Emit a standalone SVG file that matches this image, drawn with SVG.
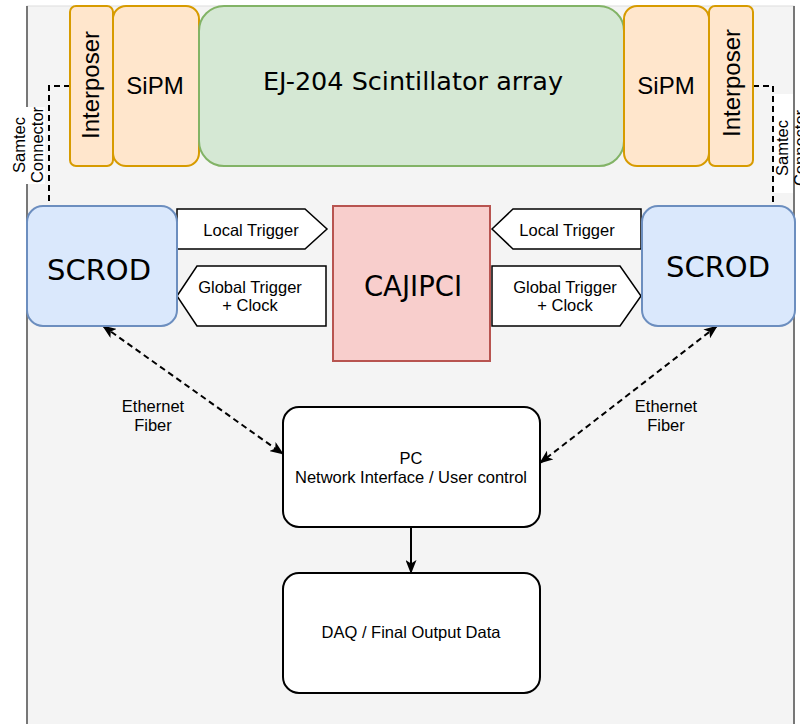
<svg xmlns="http://www.w3.org/2000/svg" width="800" height="724" viewBox="0 0 800 724">
<style>
.t{font-family:"Liberation Sans",Arial,sans-serif;fill:#000}
.d{font-family:"DejaVu Sans",sans-serif;fill:#000}
.org{fill:#ffe6cc;stroke:#d79b00;stroke-width:2}
.grn{fill:#d5e8d4;stroke:#82b366;stroke-width:2}
.blu{fill:#dae8fc;stroke:#6c8ebf;stroke-width:2}
.red{fill:#f8cecc;stroke:#b85450;stroke-width:2}
.wht{fill:#ffffff;stroke:#000;stroke-width:2}
.sig{fill:#ffffff;stroke:#000;stroke-width:1.5}
.dash{fill:none;stroke:#000;stroke-width:2;stroke-dasharray:6 4}
.solid{fill:none;stroke:#000;stroke-width:2}
</style>
<defs>
<marker id="arr" viewBox="0 0 14 11" refX="13" refY="5.5" markerWidth="14" markerHeight="11" markerUnits="userSpaceOnUse" orient="auto-start-reverse">
<path d="M0,0 L14,5.5 L0,11 L3.5,5.5 Z" fill="#000"/>
</marker>
</defs>
<rect width="800" height="724" fill="#ffffff"/>
<g id="background">
<rect x="27" y="6" width="767" height="740" fill="#f4f4f4" stroke="#dddddd" stroke-width="1"/>
<line x1="27" y1="6" x2="27" y2="724" stroke="#777" stroke-width="2"/>
<line x1="794" y1="6" x2="794" y2="724" stroke="#777" stroke-width="2"/>
</g>
<g id="connectors">
<polyline class="dash" points="70,86 49,86 49,206"/>
<polyline class="dash" points="753,86 773,86 773,206"/>
<line class="dash" x1="103" y1="326" x2="283" y2="454" marker-start="url(#arr)" marker-end="url(#arr)"/>
<line class="dash" x1="717" y1="326" x2="540" y2="463" marker-start="url(#arr)" marker-end="url(#arr)"/>
<line class="solid" x1="411" y1="527" x2="411" y2="573" marker-end="url(#arr)"/>
<g id="samtec-left">
<rect x="9" y="107" width="36" height="77" fill="#ffffff"/>
<text class="t" font-size="16.5" text-anchor="middle" transform="translate(28,145) rotate(-90)"><tspan x="0" y="-3">Samtec</tspan><tspan x="0" y="15">Connector</tspan></text>
</g>
<g id="samtec-right">
<rect x="774" y="94" width="19" height="99" fill="#ffffff"/>
<rect x="795" y="94" width="5" height="99" fill="#ffffff"/>
<text class="t" font-size="16.5" text-anchor="middle" transform="translate(797,148) rotate(-90)"><tspan x="0" y="-9">Samtec</tspan><tspan x="0" y="9">Connector</tspan></text>
</g>
<g id="eth-left"><text class="t" font-size="16.5" text-anchor="middle"><tspan x="153" y="412">Ethernet</tspan><tspan x="153" y="431">Fiber</tspan></text></g>
<g id="eth-right"><text class="t" font-size="16.5" text-anchor="middle"><tspan x="666" y="412">Ethernet</tspan><tspan x="666" y="431">Fiber</tspan></text></g>
</g>
<g id="interposer-left">
<rect class="org" x="70" y="6" width="43" height="160" rx="6"/>
<text class="t" font-size="24" text-anchor="middle" transform="translate(99,85) rotate(-90)">Interposer</text>
</g>
<g id="sipm-left">
<rect class="org" x="113" y="6" width="86" height="160" rx="13"/>
<text class="t" font-size="24" text-anchor="middle" x="155" y="94">SiPM</text>
</g>
<g id="scintillator">
<rect class="grn" x="199" y="6" width="425" height="160" rx="25"/>
<text class="d" font-size="25.5" text-anchor="middle" x="413" y="90">EJ-204 Scintillator array</text>
</g>
<g id="sipm-right">
<rect class="org" x="624" y="6" width="85" height="160" rx="13"/>
<text class="t" font-size="24" text-anchor="middle" x="666" y="94">SiPM</text>
</g>
<g id="interposer-right">
<rect class="org" x="709" y="6" width="44" height="160" rx="6"/>
<text class="t" font-size="24" text-anchor="middle" transform="translate(740,83) rotate(-90)">Interposer</text>
</g>
<g id="local-trigger-left">
<polygon class="sig" points="177,209 305,209 327,229 305,249 177,249"/>
<text class="t" font-size="16.5" text-anchor="middle" x="251" y="236">Local Trigger</text>
</g>
<g id="global-trigger-left">
<polygon class="sig" points="177,296 197,266 326,266 326,326 197,326"/>
<text class="t" font-size="16.5" text-anchor="middle"><tspan x="250" y="293">Global Trigger</tspan><tspan x="250" y="311">+ Clock</tspan></text>
</g>
<g id="local-trigger-right">
<polygon class="sig" points="492,229 513,209 641,209 641,249 513,249"/>
<text class="t" font-size="16.5" text-anchor="middle" x="567" y="236">Local Trigger</text>
</g>
<g id="global-trigger-right">
<polygon class="sig" points="492,266 620,266 641,296 620,326 492,326"/>
<text class="t" font-size="16.5" text-anchor="middle"><tspan x="565" y="293">Global Trigger</tspan><tspan x="565" y="311">+ Clock</tspan></text>
</g>
<g id="scrod-left">
<rect class="blu" x="27" y="206" width="150" height="120" rx="16"/>
<text class="d" font-size="29" text-anchor="middle" x="99" y="280">SCROD</text>
</g>
<g id="scrod-right">
<rect class="blu" x="642" y="206" width="153" height="120" rx="16"/>
<text class="d" font-size="29" text-anchor="middle" x="718" y="277">SCROD</text>
</g>
<g id="cajipci">
<rect class="red" x="333" y="206" width="157" height="155"/>
<text class="d" font-size="27.5" text-anchor="middle" x="413" y="296">CAJIPCI</text>
</g>
<g id="pc">
<rect class="wht" x="283" y="407" width="257" height="120" rx="16"/>
<text class="t" font-size="16.5" text-anchor="middle"><tspan x="411" y="464">PC</tspan><tspan x="411" y="483">Network Interface / User control</tspan></text>
</g>
<g id="daq">
<rect class="wht" x="283" y="573" width="257" height="120" rx="16"/>
<text class="t" font-size="16.5" text-anchor="middle" x="411" y="638">DAQ / Final Output Data</text>
</g>
</svg>
